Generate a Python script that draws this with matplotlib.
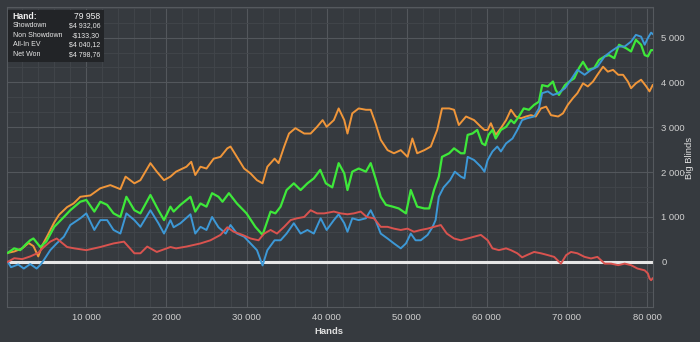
import matplotlib
matplotlib.use("Agg")
import matplotlib.pyplot as plt
from matplotlib.ticker import FixedLocator, MultipleLocator, FuncFormatter

# hands in thousands, values in big blinds
orange_k = [0.2, 1, 2, 2.8, 3.4, 4.0, 4.6, 5.2, 6.0, 6.6, 7.6, 8.4, 9.25, 10.5, 11.75, 13, 14.25, 14.9, 16, 16.75,
            18, 18.8, 19.7, 20.5, 21.2, 22.5, 23.1, 23.6, 24.25, 25, 25.9, 26.75, 27.6, 28, 28.8, 29.7, 30.5, 31.3,
            32, 32.6, 33.5, 34, 34.7, 35.3, 36.1, 37.2, 38, 38.8, 39.5, 40, 40.9, 41.5, 42.2, 42.6, 43.2, 44, 44.9,
            45.5, 46.1, 46.75, 47.6, 48.4, 49.25, 50.1, 50.7, 51.3, 52.2, 53, 53.8, 54.4, 55.3, 55.9, 56.5, 57.4,
            58.4, 59.25, 59.7, 60.1, 60.5, 61.1, 61.75, 62.4, 63, 63.6, 64.25, 64.9, 65.5, 66.1, 66.75, 67.4, 68,
            68.9, 69.5, 70.1, 70.75, 71.3, 72, 72.6, 73.25, 73.8, 74.5, 75.1, 75.75, 76.4, 77, 77.6, 78, 78.6,
            79.25, 79.9, 80.3, 80.7]
orange_bb = [200, 230, 300, 420, 350, 120, 400, 600, 880, 1050, 1220, 1300, 1450, 1480, 1640, 1710, 1620, 1900, 1750,
             1820, 2200, 2010, 1820, 1900, 2010, 2120, 2230, 1935, 2120, 2080, 2300, 2340, 2530, 2570, 2340, 2080,
             1970, 1820, 1750, 2120, 2300, 2200, 2570, 2860, 2980, 2860, 2860, 3010, 3160, 3010, 3160, 3420, 3160,
             2860, 3310, 3420, 3390, 3390, 3090, 2720, 2490, 2420, 2490, 2340, 2750, 2420, 2490, 2570, 2940, 3420,
             3420, 3390, 3050, 3240, 3160, 3010, 2940, 2940, 3090, 2830, 2980, 3160, 3390, 3240, 3200, 3240, 3270,
             3240, 3420, 3460, 3270, 3240, 3310, 3500, 3650, 3760, 3980, 3910, 4020, 4170, 4350, 4240, 4280, 4170,
             4170, 4020, 3870, 3980, 4060, 3910, 3800, 3940]

green_k = [0.2, 1, 1.75, 2.5, 3, 3.4, 4.25, 5, 6, 7.2, 8, 9.25, 10, 11, 11.75, 12.6, 13.4, 14.25, 15, 16, 16.75, 18,
           19, 19.7, 20.5, 20.9, 21.75, 23, 23.6, 24.25, 25, 25.7, 26.5, 27, 27.8, 28.8, 30, 31.1, 32, 33, 33.6,
           34.25, 35, 35.9, 36.75, 37.6, 38.4, 39.2, 39.9, 40.7, 41.5, 42.2, 42.6, 43.2, 44, 44.9, 45.5, 46.1,
           46.75, 47.4, 48.25, 49, 49.9, 50.5, 51.3, 52.2, 52.8, 53.4, 54, 54.4, 55.3, 55.9, 56.75, 57.2, 57.6,
           58.2, 58.8, 59.4, 59.8, 60.2, 60.7, 61.1, 61.75, 62.4, 63, 63.4, 64, 64.6, 65.25, 65.9, 66.5, 66.9,
           67.6, 68.25, 68.6, 69, 69.75, 70.3, 70.9, 71.5, 72, 72.6, 73.4, 74, 74.7, 75.25, 75.9, 76.5, 77.4, 78,
           78.6, 79.25, 79.7, 80.1, 80.5, 80.7]
green_bb = [200, 300, 260, 400, 480, 520, 330, 450, 780, 1000, 1150, 1340, 1380, 1120, 1340, 1270, 1080, 1000, 1450,
            1150, 1080, 1490, 1150, 930, 1230, 1120, 1270, 1450, 1120, 1300, 1230, 1530, 1450, 1340, 1530, 1300,
            1080, 780, 600, 1120, 1080, 1230, 1600, 1750, 1600, 1750, 1860, 2050, 1750, 1660, 2200, 1970, 1600,
            2010, 2080, 2010, 2200, 1860, 1450, 1270, 1230, 1190, 1080, 1600, 1230, 1190, 1190, 1600, 1900, 2340,
            2420, 2530, 2420, 2420, 2830, 2860, 2940, 2640, 2600, 2830, 2940, 2750, 2940, 3010, 3160, 3090, 3240,
            3420, 3390, 3500, 3570, 3940, 3910, 4020, 3830, 3720, 3940, 4020, 4090, 4320, 4460, 4280, 4320, 4500,
            4580, 4610, 4540, 4840, 4760, 4690, 4950, 4840, 4610, 4580, 4720, 4720]

blue_k = [0.2, 0.6, 1.5, 2.2, 3, 3.8, 4.3, 4.7, 5.5, 6.3, 7.2, 8, 9.25, 10, 11, 11.75, 12.6, 13.4, 14.25, 15, 16,
          16.75, 18, 19, 19.7, 20.5, 20.9, 21.75, 23, 23.6, 24.25, 25, 25.7, 26.5, 27.4, 28, 28.8, 29.7, 30.5,
          31.3, 32, 32.6, 33.5, 34.25, 35, 35.9, 36.75, 37.6, 38.4, 39.25, 40, 40.9, 41.5, 42.2, 42.6, 43.2, 44,
          44.9, 45.5, 46.1, 46.75, 47.6, 48.4, 49.25, 49.9, 50.5, 51.1, 51.75, 52.6, 53.2, 53.6, 54, 54.6, 55.4,
          56, 56.75, 57.2, 57.6, 58.4, 59.25, 59.7, 60.1, 60.7, 61.3, 61.75, 62.4, 63.2, 63.8, 64.4, 65, 65.9,
          66.5, 66.9, 67.6, 68.25, 68.9, 69.75, 70.5, 71.3, 72.2, 73, 73.8, 74.7, 75.5, 76.4, 77.2, 78, 78.6,
          79.25, 79.7, 80.1, 80.5, 80.7]
blue_bb = [0, -120, -60, -150, -50, -150, -60, 40, 260, 410, 560, 820, 970, 1080, 710, 930, 930, 710, 630, 1080, 930,
           780, 1150, 860, 630, 930, 770, 860, 1060, 630, 780, 710, 1000, 770, 630, 820, 630, 560, 410, 260, -80,
           260, 480, 480, 630, 860, 630, 710, 630, 970, 710, 930, 1060, 860, 670, 970, 930, 970, 1150, 930, 630,
           520, 410, 300, 410, 630, 480, 480, 600, 770, 930, 1450, 1660, 1820, 2010, 1900, 1860, 2340, 2270, 2120,
           2010, 2270, 2460, 2570, 2460, 2640, 2750, 2940, 3160, 3200, 3240, 3420, 3760, 3800, 3720, 3760, 3870,
           4060, 4280, 4170, 4280, 4350, 4580, 4690, 4800, 4800, 4910, 5060, 5020, 4840, 4990, 5110, 5080]

red_k = [0.2, 1, 2, 3, 4, 4.7, 5.5, 6.3, 7.6, 8.5, 10, 11.75, 13.4, 14.7, 16, 16.75, 17.6, 18.8, 20.5, 21.2, 22.5,
         24.25, 25.5, 26.75, 27.6, 28.4, 29.5, 30.5, 31.5, 32.2, 33, 33.8, 34.7, 35.5, 36.3, 37.2, 38, 38.8, 39.7,
         40.3, 40.9, 41.75, 42.6, 43.4, 44.25, 45, 45.9, 46.75, 47.6, 48.4, 49.25, 50.1, 50.9, 51.75, 52.6, 53.4,
         54.25, 55, 55.9, 56.75, 57.6, 58.4, 59.25, 60.1, 60.7, 61.5, 62.4, 63, 63.8, 64.4, 65, 65.9, 66.75, 67.6,
         68.4, 69.25, 69.9, 70.5, 71.3, 72.2, 73, 73.8, 74.7, 75.5, 76.4, 77.2, 78, 78.8, 79.7, 80.1, 80.3, 80.5,
         80.7]
red_bb = [0, 80, 60, 120, 200, 330, 450, 520, 330, 300, 260, 330, 410, 450, 190, 190, 340, 220, 330, 300, 340, 410,
          480, 600, 770, 670, 600, 520, 480, 630, 710, 630, 780, 930, 970, 1000, 1150, 1080, 1080, 1100, 1120, 1080,
          1060, 1080, 1120, 1000, 970, 780, 780, 740, 710, 740, 670, 710, 740, 780, 820, 630, 520, 480, 520, 560,
          600, 480, 300, 260, 300, 260, 190, 100, 150, 220, 190, 150, 110, -40, 150, 220, 190, 110, 75, 110, -40,
          -40, -75, -40, -75, -150, -190, -260, -370, -410, -370]

info_labels = ["Showdown", "Non Showdown", "All-In EV", "Net Won"]
info_values = ["$4 932,06", "-$133,30", "$4 040,12", "$4 798,76"]
hands_total = "79 958"

plt.rcParams['font.family'] = ['Liberation Sans', 'DejaVu Sans']

bg = "#363a3f"
fig = plt.figure(figsize=(7, 3.42), dpi=100, facecolor=bg)
ax = fig.add_axes([0.01, 0.102, 0.923, 0.878], facecolor=bg)

ax.plot([k * 1000 for k in orange_k], orange_bb, color="#f0963a", lw=1.4, zorder=3)
ax.plot([k * 1000 for k in green_k], green_bb, color="#3ee83a", lw=1.6, zorder=4)
ax.plot([k * 1000 for k in blue_k], blue_bb, color="#3d98d6", lw=1.4, zorder=5)
ax.plot([k * 1000 for k in red_k], red_bb, color="#d9534f", lw=1.4, zorder=6)
ax.axhline(0, color="#e6e6e6", lw=2.2, zorder=2)

ax.set_xlim(100, 80750)
ax.set_ylim(-1010, 5685)

ax.xaxis.set_major_locator(FixedLocator(range(10000, 80001, 10000)))
ax.xaxis.set_minor_locator(MultipleLocator(2000))
ax.yaxis.set_major_locator(FixedLocator(range(0, 5001, 1000)))
ax.yaxis.set_minor_locator(MultipleLocator(1000 / 3))
fmt = FuncFormatter(lambda v, p: f"{int(v):,}".replace(",", " "))
ax.xaxis.set_major_formatter(fmt)
ax.yaxis.set_major_formatter(fmt)
ax.yaxis.tick_right()

ax.grid(which="major", color="#53575c", lw=0.8, zorder=0)
ax.grid(which="minor", color="#42464b", lw=0.6, zorder=0)
ax.tick_params(which="both", length=0, colors="#d0d0d0", labelsize=6.8)
ax.tick_params(axis="x", pad=4)
ax.tick_params(axis="y", pad=6)
for s in ax.spines.values():
    s.set_color("#55595e")
    s.set_linewidth(0.8)

fig.text(329 / 700, 1 - 331 / 342, "Hands", color="#e0e0e0", fontsize=6.8, fontweight="bold",
         ha="center", va="center")
fig.text(690 / 700, 1 - 158 / 342, "Big Blinds", color="#e0e0e0", fontsize=6.8, rotation=90,
         ha="center", va="center")

# info box in the top left corner
box = fig.add_axes([8 / 700, 1 - 62 / 342, 96 / 700, 52 / 342])
box.set_facecolor("#222427")
box.set_xticks([])
box.set_yticks([])
for s in box.spines.values():
    s.set_visible(False)
box.set_xlim(0, 1)
box.set_ylim(0, 1)
box.text(0.05, 0.88, "Hand:", color="#f0f0f0", fontsize=6.2, fontweight="bold", va="center", ha="left")
box.text(0.96, 0.88, hands_total, color="#f0f0f0", fontsize=6.2, va="center", ha="right")
for i, (lab, val) in enumerate(zip(info_labels, info_values)):
    yy = 0.70 - i * 0.185
    box.text(0.05, yy, lab, color="#e8e8e8", fontsize=5.0, va="center", ha="left")
    box.text(0.96, yy, val, color="#e8e8e8", fontsize=5.0, va="center", ha="right")

fig.savefig("out.png", dpi=100, facecolor=bg)
